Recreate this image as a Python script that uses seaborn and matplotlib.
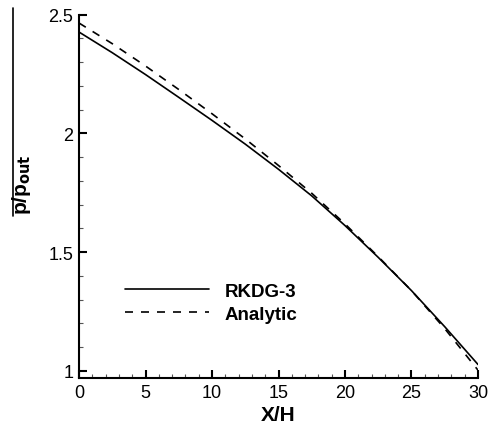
import numpy as np
import pandas as pd
import seaborn as sns
import matplotlib
matplotlib.use("Agg")
import matplotlib.pyplot as plt
from matplotlib.ticker import MultipleLocator
from matplotlib.lines import Line2D

# Pressure ratio along the channel
x_h = [0, 2.5, 5, 7.5, 10, 12.5, 15, 17.5, 20, 22.5, 25, 27.5, 30]
p_rkdg3 = [2.427, 2.340, 2.248, 2.152, 2.055, 1.955, 1.849, 1.737, 1.612, 1.478, 1.338, 1.186, 1.027]
p_analytic = [2.465, 2.378, 2.284, 2.185, 2.083, 1.977, 1.865, 1.748, 1.619, 1.481, 1.338, 1.178, 1.003]

x_ticks = [0, 5, 10, 15, 20, 25, 30]
y_ticks = [1, 1.5, 2, 2.5]
y_tick_labels = ["1", "1.5", "2", "2.5"]

df = pd.concat([
    pd.DataFrame({"X/H": x_h, "p": p_rkdg3, "case": "RKDG-3"}),
    pd.DataFrame({"X/H": x_h, "p": p_analytic, "case": "Analytic"}),
])

sns.set_theme(style="ticks")
plt.rcParams["font.family"] = ["Liberation Sans", "DejaVu Sans"]
plt.rcParams["text.color"] = "black"
plt.rcParams["axes.labelcolor"] = "black"

fig = plt.figure(figsize=(4.88, 4.35), dpi=100)
ax = fig.add_axes([0.1619, 0.1287, 0.8176, 0.8352])

sns.lineplot(data=df, x="X/H", y="p", hue="case", style="case",
             palette={"RKDG-3": "black", "Analytic": "black"},
             dashes={"RKDG-3": "", "Analytic": (4.8, 4.8)},
             linewidth=1.2, legend=False, ax=ax)

ax.set_xlim(0, 30)
ax.set_ylim(0.97, 2.5)
ax.set_xticks(x_ticks)
ax.set_yticks(y_ticks)
ax.set_yticklabels(y_tick_labels)
ax.xaxis.set_minor_locator(MultipleLocator(1))
ax.yaxis.set_minor_locator(MultipleLocator(0.1))

for side in ("top", "right"):
    ax.spines[side].set_visible(False)
for side in ("left", "bottom"):
    ax.spines[side].set_linewidth(1.5)
    ax.spines[side].set_color("black")

ax.tick_params(which="major", direction="in", length=6, width=1.5,
               labelsize=13, colors="black", pad=4)
ax.tick_params(which="minor", direction="in", length=3, width=0.8,
               color="#555555")

ax.set_xlabel("X/H", fontsize=15, fontweight="bold", labelpad=3,
              color="black")
ax.set_ylabel("")

# Vertical axis title with its overbar
fig.text(0.045, 0.575, r"p/p$_{\mathbf{out}}$", rotation=90, ha="center",
         va="center", fontsize=15, fontweight="bold", color="black")
fig.add_artist(Line2D([0.027, 0.027], [1 - 217 / 435, 1 - 9 / 435],
                      transform=fig.transFigure, color="black", linewidth=1.2))

handles = [Line2D([], [], color="black", linewidth=1.2),
           Line2D([], [], color="black", linewidth=1.2, dashes=(4.8, 4.8))]
leg = ax.legend(handles, ["RKDG-3", "Analytic"], frameon=False,
                loc="center left", bbox_to_anchor=(0.073, 0.207),
                handlelength=4.5, handletextpad=0.8, labelspacing=0.32,
                prop={"weight": "bold", "size": 13.5})
for t in leg.get_texts():
    t.set_color("black")

fig.savefig("out.png", dpi=100)
